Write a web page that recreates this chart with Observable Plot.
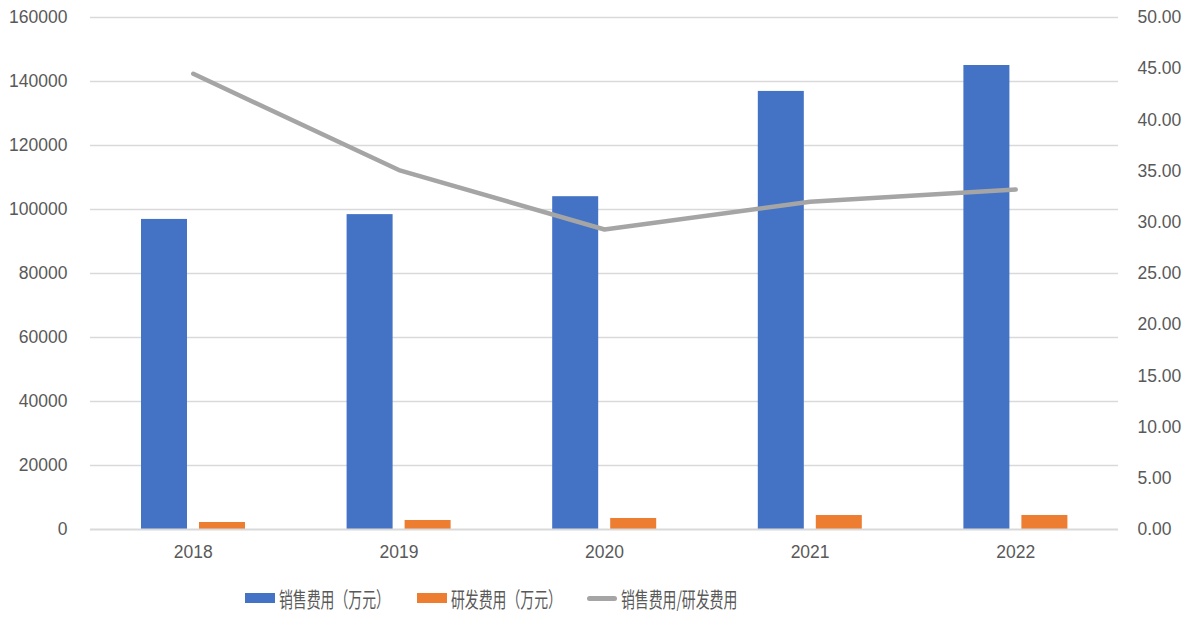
<!DOCTYPE html>
<html><head><meta charset="utf-8">
<script src="https://cdn.jsdelivr.net/npm/d3@7"></script>
<script src="https://cdn.jsdelivr.net/npm/@observablehq/plot@0.6"></script>
<style>
body{margin:0;background:#fff;font-family:"Liberation Sans",sans-serif;}
#wrap{position:relative;width:1195px;height:622px;}
.lg{position:absolute;display:flex;align-items:center;height:26px;top:585px;}
.sw{width:30px;height:10px;margin-right:4px;flex:none;}
.ln{width:30px;height:5px;border-radius:3px;background:#a5a5a5;margin-right:4px;flex:none;}
.tx{font-family:"Noto Sans CJK SC",sans-serif;font-size:21px;line-height:26px;color:#595959;display:inline-block;transform:scaleX(0.66);transform-origin:left center;white-space:nowrap;}
</style></head>
<body><div id="wrap"></div>
<script>
const years = ["2018","2019","2020","2021","2022"];
const sales = [96900, 98400, 104000, 136900, 145000];
const rd = [2190, 2810, 3440, 4370, 4380];
const ratio = [44.5, 35.1, 29.3, 32.0, 33.2];
const leftTicks = [0,20000,40000,60000,80000,100000,120000,140000,160000];
const rightTicks = [0,5,10,15,20,25,30,35,40,45,50];
const seriesNames = ["销售费用（万元）","研发费用（万元）","销售费用/研发费用"];
const colors = ["#4472C4","#ED7D31","#A5A5A5"];

const k = 160000/50;
const data = years.map((y,i)=>({year:y, sales:sales[i], rd:rd[i], ratio:ratio[i]}));
const fmt = d3.format("d");

const chart = Plot.plot({
  width:1195, height:570,
  marginLeft:90, marginRight:77, marginTop:17, marginBottom:41,
  style:{fontFamily:"Liberation Sans, sans-serif", fontSize:"17.5px", color:"#595959", background:"#fff"},
  x:{domain:years, padding:0, label:null, round:false},
  y:{domain:[0,160000], label:null},
  marks:[
    Plot.gridY(leftTicks.filter(d=>d>0), {stroke:"#d9d9d9", strokeOpacity:1, strokeWidth:1.4}),
    Plot.barY(data, {x:"year", y:"sales", fill:colors[0], insetLeft:51, insetRight:108.6}),
    Plot.barY(data, {x:"year", y:"rd", fill:colors[1], insetLeft:109, insetRight:50.6}),
    Plot.ruleY([0], {stroke:"#d9d9d9", strokeWidth:2}),
    Plot.lineY(data, {x:"year", y:d=>d.ratio*k, stroke:colors[2], strokeWidth:4.5, strokeLinecap:"round", strokeLinejoin:"round"}),
    Plot.axisY({ticks:leftTicks, tickFormat:fmt, tickSize:0, tickPadding:23, label:null, fill:"#595959"}),
    Plot.axisY({anchor:"right", ticks:rightTicks.map(v=>v*k), tickFormat:d=>(d/k).toFixed(2), tickSize:0, tickPadding:19, label:null, fill:"#595959"}),
    Plot.axisX({tickSize:0, tickPadding:16, label:null, fill:"#595959"})
  ]
});
const wrap = document.getElementById("wrap");
wrap.appendChild(chart);

const items = [
  {left:245, kind:"sw", color:colors[0], name:seriesNames[0]},
  {left:417, kind:"sw", color:colors[1], name:seriesNames[1]},
  {left:587, kind:"ln", color:colors[2], name:seriesNames[2]}
];
for (const it of items){
  const d = document.createElement("div");
  d.className = "lg";
  d.style.left = it.left + "px";
  const s = document.createElement("div");
  s.className = it.kind;
  s.style.background = it.color;
  const t = document.createElement("span");
  t.className = "tx";
  t.textContent = it.name;
  d.appendChild(s); d.appendChild(t);
  wrap.appendChild(d);
}
</script>
</body></html>
